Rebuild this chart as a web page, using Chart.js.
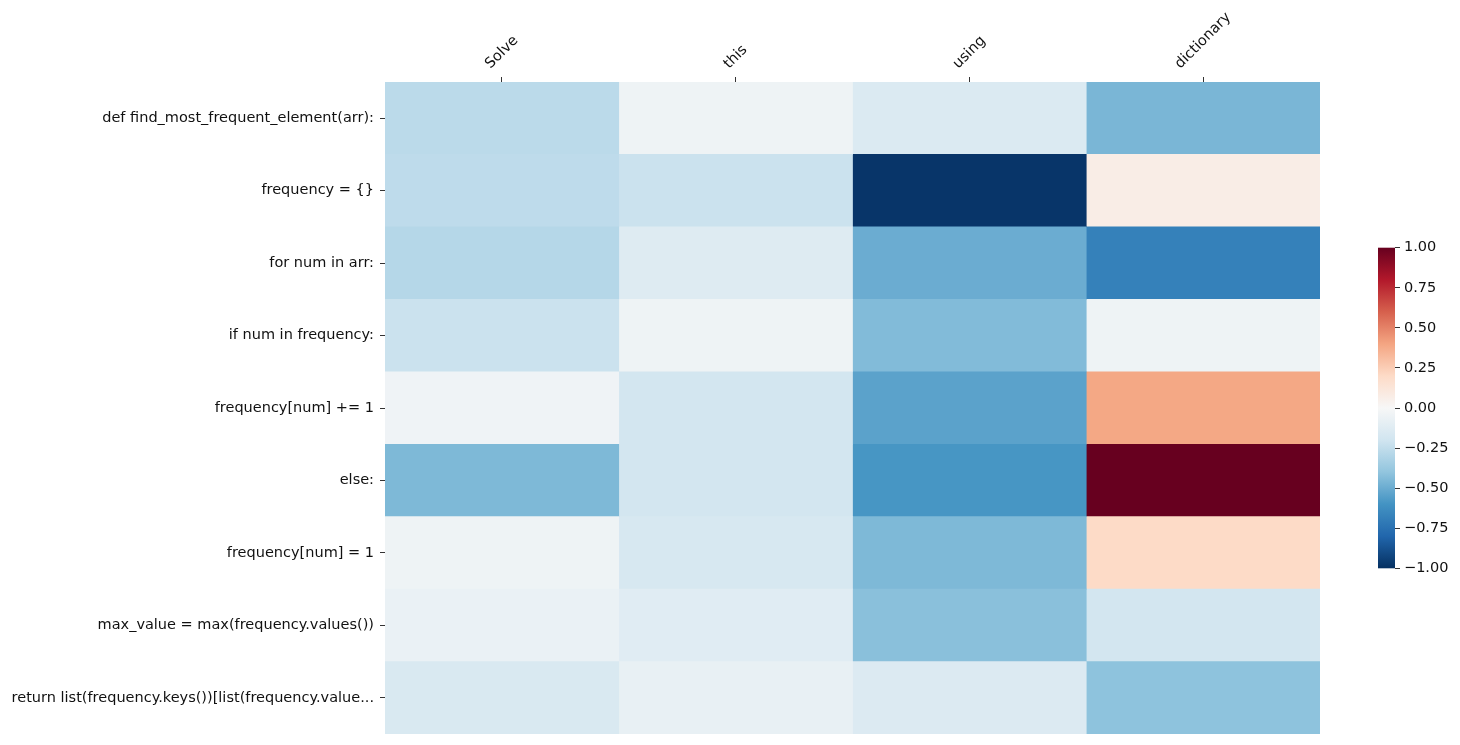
<!DOCTYPE html>
<html>
<head>
<meta charset="utf-8">
<script src="https://cdn.jsdelivr.net/npm/chart.js@4/dist/chart.umd.min.js"></script>
<style>
  html, body { margin: 0; padding: 0; background: #fff; overflow: hidden; }
  #wrap { position: relative; width: 1460px; height: 745px; }
  #mainBox { position: absolute; left: 0; top: 0; width: 1330px; height: 745px; }
  #cbarBox { position: absolute; left: 1370px; top: 235px; width: 90px; height: 346px; }
</style>
</head>
<body>
<div id="wrap">
  <div id="mainBox"><canvas id="heat"></canvas></div>
  <div id="cbarBox"><canvas id="cbar"></canvas></div>
</div>
<script>
// rows (code lines) and columns (prompt tokens)
const rowLabels = [
  "def find_most_frequent_element(arr):",
  "frequency = {}",
  "for num in arr:",
  "if num in frequency:",
  "frequency[num] += 1",
  "else:",
  "frequency[num] = 1",
  "max_value = max(frequency.values())",
  "return list(frequency.keys())[list(frequency.value..."
];
const colLabels = ["Solve", "this", "using", "dictionary"];

// values per column, one per row
const solveVals = [-0.27, -0.26, -0.29, -0.22, -0.04, -0.45, -0.05, -0.07, -0.16];
const thisVals  = [-0.05, -0.22, -0.13, -0.05, -0.19, -0.19, -0.17, -0.12, -0.08];
const usingVals = [-0.15, -0.98, -0.50, -0.44, -0.54, -0.59, -0.45, -0.42, -0.14];
const dictVals  = [-0.46,  0.07, -0.68, -0.05,  0.39,  1.00,  0.20, -0.19, -0.41];
const columns = [solveVals, thisVals, usingVals, dictVals];

const cbarTicks = [-1, -0.75, -0.5, -0.25, 0, 0.25, 0.5, 0.75, 1];

// RdBu_r anchors, from -1 to 1
const rdbu = ["#053061", "#2166ac", "#4393c3", "#92c5de", "#d1e5f0", "#f7f7f7",
              "#fddbc7", "#f4a582", "#d6604d", "#b2182b", "#67001f"];

function hexToRgb(h) {
  return [parseInt(h.slice(1, 3), 16), parseInt(h.slice(3, 5), 16), parseInt(h.slice(5, 7), 16)];
}

function colorFor(v) {
  let t = (Math.max(-1, Math.min(1, v)) + 1) / 2 * (rdbu.length - 1);
  let i = Math.min(Math.floor(t), rdbu.length - 2);
  let f = t - i;
  let a = hexToRgb(rdbu[i]), b = hexToRgb(rdbu[i + 1]);
  let c = a.map((x, k) => Math.round(x + (b[k] - x) * f));
  return `rgb(${c[0]}, ${c[1]}, ${c[2]})`;
}

Chart.defaults.font.family = "'DejaVu Sans', sans-serif";
Chart.defaults.font.size = 14.5;
Chart.defaults.color = "#111";

const datasets = columns.map((vals, j) => ({
  label: colLabels[j],
  data: rowLabels.map(() => [j, j + 1]),
  backgroundColor: vals.map(v => colorFor(v)),
  borderWidth: 0,
  barPercentage: 1,
  categoryPercentage: 1,
  grouped: false
}));

// rotated, centred column labels on top (like matplotlib)
const topLabels = {
  id: "topLabels",
  afterDraw(chart) {
    const ctx = chart.ctx;
    const xs = chart.scales.x;
    const top = chart.chartArea.top - 5;
    ctx.save();
    ctx.font = "14.5px 'DejaVu Sans', sans-serif";
    ctx.fillStyle = "#111";
    ctx.textAlign = "center";
    ctx.textBaseline = "middle";
    colLabels.forEach((lab, j) => {
      const x = xs.getPixelForValue(j + 0.5);
      const w = ctx.measureText(lab).width;
      const half = (w + 16) * Math.SQRT1_2 / 2;
      ctx.save();
      ctx.translate(x, top - 5 - half);
      ctx.rotate(-Math.PI / 4);
      ctx.fillText(lab, 0, 0);
      ctx.restore();
    });
    ctx.restore();
  }
};

new Chart(document.getElementById("heat"), {
  type: "bar",
  data: { labels: rowLabels, datasets: datasets },
  options: {
    indexAxis: "y",
    responsive: true,
    maintainAspectRatio: false,
    animation: false,
    layout: { padding: { left: 0, right: 10, top: 0, bottom: 11 } },
    plugins: {
      legend: { display: false },
      tooltip: { enabled: false }
    },
    scales: {
      x: {
        type: "linear",
        position: "top",
        min: 0,
        max: 4,
        afterBuildTicks: (scale) => {
          scale.ticks = colLabels.map((c, j) => ({ value: j + 0.5 }));
        },
        afterFit: (scale) => { scale.height = 82; },
        ticks: { display: false },
        grid: { drawOnChartArea: false, drawTicks: true, tickLength: 5, color: "#333" },
        border: { display: false }
      },
      y: {
        type: "category",
        offset: true,
        afterFit: (scale) => {
          scale.width = 385;
          scale.paddingTop = 0;
          scale.paddingBottom = 0;
        },
        ticks: { padding: 6, color: "#111", autoSkip: false },
        grid: { offset: false, drawOnChartArea: false, drawTicks: true, tickLength: 5, color: "#333" },
        border: { display: false }
      }
    }
  },
  plugins: [topLabels]
});

// colour bar
const cbarFill = {
  id: "cbarFill",
  beforeDatasetsDraw(chart) {
    const { ctx, chartArea: a } = chart;
    const g = ctx.createLinearGradient(0, a.bottom, 0, a.top);
    rdbu.forEach((c, i) => g.addColorStop(i / (rdbu.length - 1), c));
    ctx.save();
    ctx.fillStyle = g;
    ctx.fillRect(a.left, a.top, a.right - a.left, a.bottom - a.top);
    ctx.restore();
  }
};

new Chart(document.getElementById("cbar"), {
  type: "scatter",
  data: { datasets: [{ data: [] }] },
  options: {
    responsive: true,
    maintainAspectRatio: false,
    animation: false,
    layout: { padding: { left: 8, right: 0, top: 10, bottom: 10 } },
    plugins: { legend: { display: false }, tooltip: { enabled: false } },
    scales: {
      x: { display: false, min: 0, max: 1 },
      y: {
        position: "right",
        min: -1,
        max: 1,
        afterBuildTicks: (scale) => {
          scale.ticks = cbarTicks.map(v => ({ value: v }));
        },
        afterFit: (scale) => { scale.width = 65; },
        ticks: {
          padding: 4,
          color: "#111",
          callback: (v) => (v < 0 ? "\u2212" : "") + Math.abs(v).toFixed(2)
        },
        grid: { drawOnChartArea: false, drawTicks: true, tickLength: 5, color: "#333" },
        border: { display: false }
      }
    }
  },
  plugins: [cbarFill]
});
</script>
</body>
</html>
